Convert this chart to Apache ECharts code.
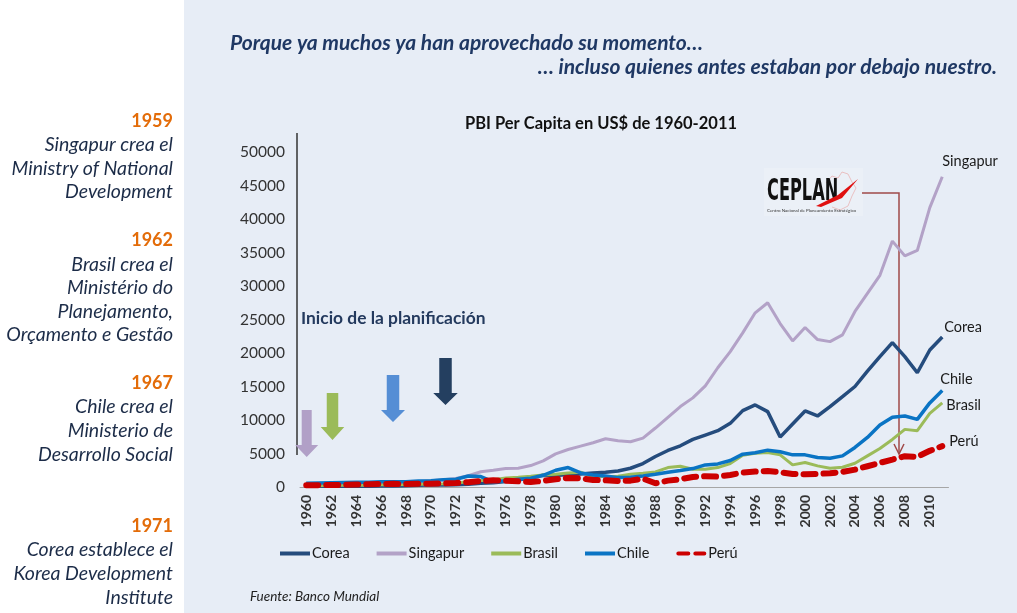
<!DOCTYPE html>
<html style="height: 100%">
<head>
<meta charset="utf-8">
</head>
<body style="height: 100%; margin: 0; background: #e7edf6">
<div id="container" style="width: 1017px; height: 613px"></div>
<script type="text/javascript" src="https://cdn.jsdelivr.net/npm/echarts@6/dist/echarts.min.js"></script>
<script type="text/javascript">
var years = ['1960','1961','1962','1963','1964','1965','1966','1967','1968','1969',
  '1970','1971','1972','1973','1974','1975','1976','1977','1978','1979',
  '1980','1981','1982','1983','1984','1985','1986','1987','1988','1989',
  '1990','1991','1992','1993','1994','1995','1996','1997','1998','1999',
  '2000','2001','2002','2003','2004','2005','2006','2007','2008','2009',
  '2010','2011'];

var corea = [160, 95, 105, 145, 125, 110, 135, 160, 200, 245,
  280, 305, 325, 410, 560, 620, 830, 1050, 1400, 1750,
  1700, 1850, 1950, 2100, 2200, 2400, 2800, 3500, 4550, 5450,
  6150, 7100, 7750, 8400, 9500, 11400, 12250, 11250, 7450, 9400,
  11350, 10600, 12000, 13500, 15000, 17300, 19450, 21550, 19450, 17050,
  20450, 22400];

var singapur = [430, 450, 470, 510, 490, 520, 570, 630, 710, 810,
  930, 1070, 1260, 1690, 2280, 2500, 2750, 2800, 3200, 3900,
  4950, 5600, 6100, 6600, 7200, 6900, 6750, 7300, 8800, 10400,
  12000, 13300, 15100, 17800, 20200, 23000, 26000, 27500, 24400, 21800,
  23800, 22000, 21700, 22700, 26200, 28900, 31600, 36700, 34500, 35300,
  41700, 46300];

var brasil = [210, 200, 250, 300, 260, 260, 320, 350, 370, 400,
  440, 500, 580, 770, 960, 1100, 1350, 1450, 1600, 1800,
  1900, 2100, 2200, 1550, 1550, 1600, 1900, 2050, 2250, 2900,
  3100, 2650, 2650, 2900, 3500, 4750, 5050, 5150, 4800, 3300,
  3650, 3150, 2800, 2950, 3550, 4650, 5750, 7100, 8600, 8400,
  11000, 12550];

var chile = [550, 600, 650, 680, 700, 700, 800, 800, 800, 900,
  950, 1100, 1150, 1650, 1550, 750, 950, 1150, 1300, 1750,
  2500, 2900, 2100, 1800, 1650, 1400, 1450, 1650, 1900, 2200,
  2450, 2750, 3300, 3450, 3950, 4900, 5100, 5500, 5250, 4800,
  4800, 4400, 4300, 4650, 5900, 7400, 9250, 10400, 10600, 10100,
  12550, 14400];

var peru = [250, 280, 300, 320, 360, 400, 450, 470, 430, 470,
  500, 540, 600, 720, 880, 1000, 950, 850, 750, 900,
  1150, 1350, 1300, 1050, 1000, 900, 950, 1250, 550, 950,
  1150, 1500, 1600, 1550, 1800, 2150, 2300, 2400, 2200, 1950,
  1900, 1950, 2050, 2250, 2600, 3100, 3600, 4100, 4600, 4500,
  5400, 6100];

var seriesNames = ['Corea', 'Singapur', 'Brasil', 'Chile', 'Perú'];

var FONT = 'Lato';
var navy = '#1f3864';
var textDark = '#1c2c48';

var dom = document.getElementById('container');
var myChart = echarts.init(dom);

function leftText(str, y, isYear) {
    return {
        type: 'text', x: 173, y: y,
        style: {
            text: str,
            font: (isYear ? 'bold 18px ' : 'italic 19.5px ') + FONT,
            fill: isYear ? '#e36c09' : textDark,
            align: 'right', verticalAlign: 'middle'
        }
    };
}

function downArrow(cx, top, headY, tipY, shaftW, headW, color) {
    return {
        type: 'polygon',
        shape: {
            points: [
                [cx - shaftW / 2, top], [cx + shaftW / 2, top], [cx + shaftW / 2, headY],
                [cx + headW / 2, headY], [cx, tipY], [cx - headW / 2, headY], [cx - shaftW / 2, headY]
            ]
        },
        style: { fill: color }
    };
}

var graphics = [
    { type: 'rect', shape: { x: 0, y: 0, width: 184, height: 613 }, style: { fill: '#ffffff' }, z: -10 },
    { type: 'text', x: 230, y: 43, style: { text: 'Porque ya muchos ya han aprovechado su momento…', font: 'italic bold 21px ' + FONT, fill: navy, verticalAlign: 'middle' } },
    { type: 'text', x: 997, y: 67, style: { text: '… incluso quienes antes estaban por debajo nuestro.', font: 'italic bold 21px ' + FONT, fill: navy, align: 'right', verticalAlign: 'middle' } },
    { type: 'text', x: 601, y: 124, style: { text: 'PBI Per Capita en US$ de 1960-2011', font: 'bold 16.5px ' + FONT, fill: '#111', align: 'center', verticalAlign: 'middle' } },
    { type: 'text', x: 250, y: 597, style: { text: 'Fuente: Banco Mundial', font: 'italic 13.5px ' + FONT, fill: '#222', verticalAlign: 'middle' } },
    { type: 'text', x: 301, y: 318, style: { text: 'Inicio de la planificación', font: 'bold 17.4px ' + FONT, fill: '#243a5e', verticalAlign: 'middle' } },
    { type: 'line', shape: { x1: 297, y1: 133, x2: 297, y2: 455 }, style: { stroke: '#333', lineWidth: 1.5 } },
    downArrow(306.7, 410, 445, 457, 10, 23, '#b1a0c7'),
    downArrow(332.5, 393, 427, 440, 11.5, 23.5, '#9bbb59'),
    downArrow(393, 375, 410, 422, 12.5, 24, '#558ed5'),
    downArrow(445.5, 358, 393, 405, 12.5, 24.5, '#243f60'),
    // CEPLAN logo
    { type: 'rect', shape: { x: 764, y: 168, width: 99, height: 48 }, style: { fill: '#ebf0f7' } },
    { type: 'polyline', shape: { points: [[826, 183], [832, 176], [838, 178], [842, 172], [848, 174], [852, 182], [856, 188], [852, 196], [848, 206], [840, 210], [832, 207]] }, style: { stroke: '#e8b4b4', lineWidth: 0.8, fill: null } },
    { type: 'text', x: 767, y: 207, scaleX: 0.6, originX: 0, originY: 0, style: { text: 'CEPLAN', font: 'bold 30px "DejaVu Sans Condensed"', fill: '#111', verticalAlign: 'bottom' } },
    { type: 'polygon', shape: { points: [[816, 206], [838, 195], [858, 179], [842, 198], [821, 207]] }, style: { fill: '#e01010' } },
    { type: 'text', x: 767, y: 211, style: { text: 'Centro Nacional de Planeamiento Estratégico', font: '4.5px ' + FONT, fill: '#333', verticalAlign: 'middle' } },
    // connector arrow
    { type: 'polyline', shape: { points: [[862, 193], [899, 193], [899, 454]] }, style: { stroke: '#a04a4a', lineWidth: 1.5, fill: null } },
    { type: 'polyline', shape: { points: [[894, 444], [899, 454], [904, 444]] }, style: { stroke: '#a04a4a', lineWidth: 1.5, fill: null } }
];

var leftLines = [
    ['1959', 121, true], ['Singapur crea el', 145, false], ['Ministry of National', 168.5, false], ['Development', 192, false],
    ['1962', 240, true], ['Brasil crea el', 264.5, false], ['Ministério do', 288, false], ['Planejamento,', 311.5, false], ['Orçamento e Gestão', 335, false],
    ['1967', 383.5, true], ['Chile crea el', 407, false], ['Ministerio de', 431, false], ['Desarrollo Social', 455, false],
    ['1971', 526, true], ['Corea establece el', 550, false], ['Korea Development', 574, false], ['Institute', 598, false]
];
leftLines.forEach(function (l) { graphics.push(leftText(l[0], l[1], l[2])); });

function makeSeries(name, data, color, width, offset, dashed) {
    return {
        name: name,
        type: 'line',
        data: data,
        symbol: 'none',
        smooth: false,
        lineStyle: dashed ? { color: color, width: width, type: [12, 8], cap: 'round' } : { color: color, width: width },
        itemStyle: { color: color },
        endLabel: {
            show: true,
            formatter: '{a}',
            offset: offset,
            fontFamily: FONT,
            fontSize: 14.5,
            color: '#1a1a1a'
        },
        emphasis: { disabled: true }
    };
}

var lineIcon = 'path://M0,0H30V4H0Z';
var dashIcon = 'path://M2,0H12A2,2,0,0,1,12,4H2A2,2,0,0,1,2,0Z M19,0H28A2,2,0,0,1,28,4H19A2,2,0,0,1,19,0Z';

var option = {
    backgroundColor: '#e7edf6',
    animation: false,
    textStyle: { fontFamily: FONT },
    grid: { left: 300, right: 68.5, top: 152, bottom: 126, outerBoundsMode: 'none' },
    legend: {
        data: seriesNames.map(function (n) {
            return { name: n, icon: n === 'Perú' ? dashIcon : lineIcon };
        }),
        left: 275, top: 541,
        itemWidth: 30, itemHeight: 4, itemGap: 27,
        textStyle: { fontFamily: FONT, fontSize: 14.5, color: '#1a1a1a', padding: [0, 0, 0, -3] }
    },
    xAxis: {
        type: 'category',
        data: years,
        boundaryGap: true,
        axisLine: { lineStyle: { color: '#a6a6a6', width: 1 } },
        axisTick: { show: false },
        axisLabel: { rotate: 90, interval: 1, margin: 8, fontSize: 14, fontWeight: 'bold', color: '#333', fontFamily: FONT }
    },
    yAxis: {
        type: 'value',
        min: 0, max: 50000, interval: 5000,
        splitLine: { show: false },
        axisLine: { show: false },
        axisTick: { show: false },
        axisLabel: { margin: 15, fontSize: 15.5, color: '#333', fontFamily: FONT, formatter: function (v) { return String(v); } }
    },
    graphic: graphics,
    series: [
        makeSeries('Corea', corea, '#254c7d', 3.5, [-6, -10], false),
        makeSeries('Singapur', singapur, '#b3a2c7', 3, [-8, -15], false),
        makeSeries('Brasil', brasil, '#9bbb59', 3, [-4, 2], false),
        makeSeries('Chile', chile, '#0a74c4', 3.5, [-10, -11], false),
        makeSeries('Perú', peru, '#cc0000', 6, [-1, -5], true)
    ]
};

myChart.setOption(option);
</script>
</body>
</html>
